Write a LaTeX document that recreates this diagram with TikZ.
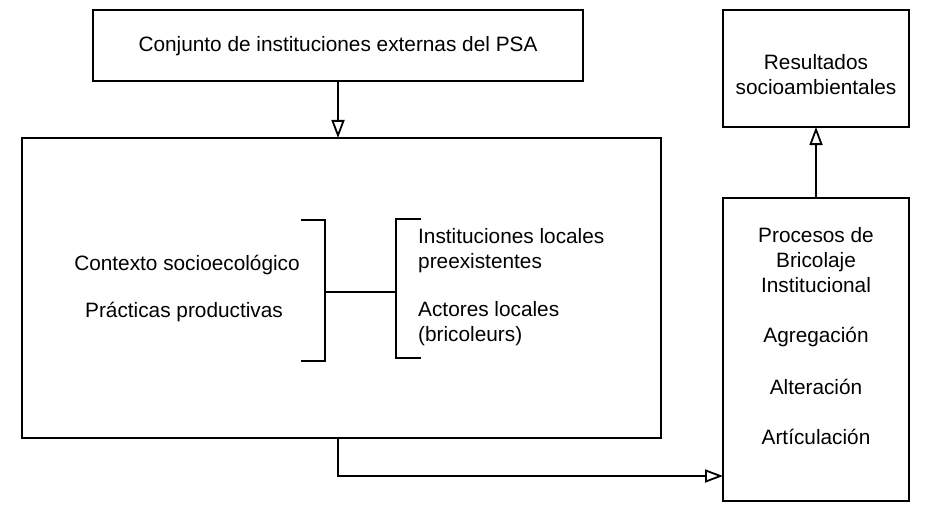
\documentclass[tikz,border=0pt]{standalone}
\usepackage{fontspec}
\setmainfont{Liberation Sans}
\usetikzlibrary{arrows.meta}
\begin{document}
\begin{tikzpicture}[x=1pt,y=-1pt,
  box/.style={draw, line width=2.2pt, rectangle},
  lbl/.style={font=\fontsize{20.8}{25}\selectfont, inner sep=0pt, align=center},
  conn/.style={line width=2.2pt, -{Triangle[open, length=18pt, width=13pt, line width=1.8pt]}},
  brk/.style={line width=2.2pt}]
\useasboundingbox (0,0) rectangle (944,508);
% boxes
\draw[box] (93,10) rectangle (583,81);
\node[lbl] (top) at (338,46) {Conjunto de instituciones externas del PSA};
\coordinate (topb) at (338,81);
\draw[box] (22,138) rectangle (661,438);
\coordinate (bigt) at (338,138);
\coordinate (bigb) at (338,438);
\draw[box] (723,10) rectangle (909,127);
\node[lbl] (res) at (816,75) {Resultados\\socioambientales};
\coordinate (rest) at (816,127);
\draw[box] (723,198) rectangle (909,501);
\coordinate (proct) at (816,198);
\coordinate (procl) at (723,476);
\coordinate (bend) at (338,476);
% texts in big box
\node[lbl] (ctx) at (187,265) {Contexto socioecológico};
\node[lbl] (prac) at (184,312) {Prácticas productivas};
\node[lbl, anchor=west, align=left] (inst) at (418,251) {Instituciones locales\\preexistentes};
\node[lbl, anchor=west, align=left] (act) at (418,324) {Actores locales\\(bricoleurs)};
% brackets
\draw[brk] (301,220) -- (325,220) -- (325,361) -- (301,361);
\draw[brk] (421,219) -- (396,219) -- (396,358) -- (421,358);
\coordinate (lb) at (325,292);
\coordinate (rb) at (396,292);
\draw[brk] (lb) -- (rb);
% process texts
\node[lbl] (proc) at (816,260) {Procesos de\\Bricolaje\\Institucional};
\node[lbl] (agr) at (816,337) {Agregación};
\node[lbl] (alt) at (816,387) {Alteración};
\node[lbl] (art) at (816,437) {Artículación};
% connectors
\draw[conn] (topb) -- (bigt);
\draw[conn] (proct) -- (rest);
\draw[conn] (bigb) -- (bend) -- (procl);
\end{tikzpicture}
\end{document}
